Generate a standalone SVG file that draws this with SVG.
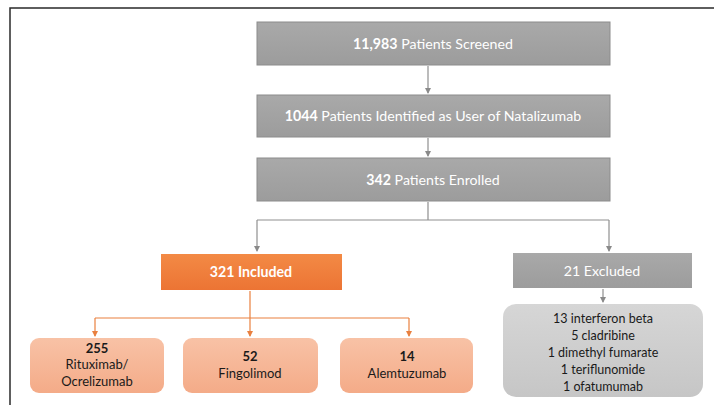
<svg xmlns="http://www.w3.org/2000/svg" width="714" height="405" viewBox="0 0 714 405">
<defs>
<linearGradient id="gGray" x1="0" y1="0" x2="0" y2="1"><stop offset="0" stop-color="#a9a9a9"/><stop offset="1" stop-color="#9c9c9c"/></linearGradient>
<linearGradient id="gOr" x1="0" y1="0" x2="0" y2="1"><stop offset="0" stop-color="#f38a45"/><stop offset="1" stop-color="#ec7434"/></linearGradient>
<linearGradient id="gSal" x1="0" y1="0" x2="0" y2="1"><stop offset="0" stop-color="#f8c2a6"/><stop offset="1" stop-color="#f4ab88"/></linearGradient>
<linearGradient id="gLt" x1="0" y1="0" x2="0" y2="1"><stop offset="0" stop-color="#d6d6d6"/><stop offset="1" stop-color="#c6c6c6"/></linearGradient>
<marker id="aG" viewBox="0 0 6 6" refX="5" refY="3" markerWidth="5" markerHeight="5" orient="auto"><path d="M0,0 L6,3 L0,6 z" fill="#8a8a8a"/></marker>
<marker id="aO" viewBox="0 0 6 6" refX="5" refY="3" markerWidth="5" markerHeight="5" orient="auto"><path d="M0,0 L6,3 L0,6 z" fill="#e9803f"/></marker>
</defs>
<style>
.t{font-family:Lato,"Open Sans","Liberation Sans",sans-serif;font-size:13px;text-anchor:middle}
.m{font-size:14.2px}
.s{font-size:12.5px}
.w{fill:#ffffff}
.k{fill:#1a1a1a}
.b{font-weight:bold}
.gbox{fill:url(#gGray);stroke:#8c8c8c;stroke-width:1}
.cg{fill:none;stroke:#8f8f8f;stroke-width:1.2}
.co{fill:none;stroke:#e9803f;stroke-width:1.2}
</style>
<rect width="714" height="405" fill="#ffffff"/>
<path d="M10,405 L10,8 L714,8" fill="none" stroke="#2a2a2a" stroke-width="1.5"/>
<g id="connectors">
<path class="cg" d="M428,66 L428,93" marker-end="url(#aG)"/>
<path class="cg" d="M428,138 L428,156" marker-end="url(#aG)"/>
<path class="cg" d="M428,202 L428,220 M257,220 L609,220"/>
<path class="cg" d="M257,220 L257,251" marker-end="url(#aG)"/>
<path class="cg" d="M609,220 L609,251" marker-end="url(#aG)"/>
<path class="cg" d="M603,289 L603,302" marker-end="url(#aG)"/>
<path class="co" d="M250,291 L250,318 M95,318 L409,318"/>
<path class="co" d="M95,318 L95,336" marker-end="url(#aO)"/>
<path class="co" d="M250,318 L250,336" marker-end="url(#aO)"/>
<path class="co" d="M409,318 L409,336" marker-end="url(#aO)"/>
</g>
<g id="screened">
<rect class="gbox" x="257" y="22" width="353" height="43"/>
<text class="t m w" x="433" y="48.5"><tspan class="b">11,983</tspan> Patients Screened</text>
</g>
<g id="identified">
<rect class="gbox" x="257" y="95" width="353" height="42"/>
<text class="t m w" x="433" y="121"><tspan class="b">1044</tspan> Patients Identified as User of Natalizumab</text>
</g>
<g id="enrolled">
<rect class="gbox" x="257" y="158" width="353" height="43"/>
<text class="t m w" x="433" y="184.5"><tspan class="b">342</tspan> Patients Enrolled</text>
</g>
<g id="included">
<rect x="161" y="254" width="181" height="36" fill="url(#gOr)"/>
<text class="t m w b" x="251" y="277">321 Included</text>
</g>
<g id="excluded">
<rect x="513" y="253" width="179" height="35" fill="url(#gGray)"/>
<text class="t m w" x="602" y="275.5">21 Excluded</text>
</g>
<g id="rituximab">
<rect x="30" y="338" width="134" height="55" rx="9" fill="url(#gSal)"/>
<text class="t k b" x="97" y="353">255</text>
<text class="t k" x="97" y="369">Rituximab/</text>
<text class="t k" x="97" y="386">Ocrelizumab</text>
</g>
<g id="fingolimod">
<rect x="183" y="338" width="135" height="55" rx="9" fill="url(#gSal)"/>
<text class="t k b" x="250" y="361">52</text>
<text class="t k" x="250" y="378">Fingolimod</text>
</g>
<g id="alemtuzumab">
<rect x="340" y="338" width="133" height="55" rx="9" fill="url(#gSal)"/>
<text class="t k b" x="407" y="361">14</text>
<text class="t k" x="407" y="378">Alemtuzumab</text>
</g>
<g id="excluded-list">
<rect x="503" y="304" width="200" height="93" rx="13" fill="url(#gLt)"/>
<text class="t s k" x="603" y="323">13 interferon beta</text>
<text class="t s k" x="603" y="340">5 cladribine</text>
<text class="t s k" x="603" y="357">1 dimethyl fumarate</text>
<text class="t s k" x="603" y="374">1 teriflunomide</text>
<text class="t s k" x="603" y="391">1 ofatumumab</text>
</g>
</svg>
